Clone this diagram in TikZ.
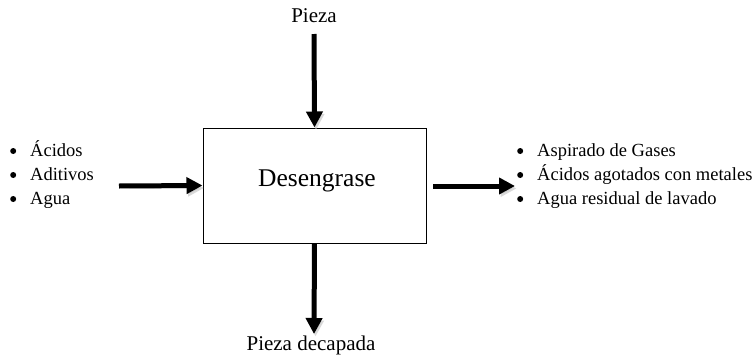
\documentclass[tikz,border=0pt]{standalone}
\usepackage{fontspec}
\setmainfont{Liberation Serif}
\usetikzlibrary{arrows.meta}

\tikzset{
  flecha/.style={line width=5pt, -{Triangle[length=16pt,width=16pt]},
    preaction={draw=black!25, opacity=0.6, transform canvas={shift={(1.5pt,-2.5pt)}}}},
  lista/.style={anchor=base west, inner sep=0pt, font=\fontsize{18.5}{24}\selectfont},
  rotulo/.style={anchor=base, inner sep=0pt, font=\fontsize{21}{24}\selectfont},
}
\newcommand{\vineta}{\raisebox{2pt}{\tikz\fill (0,0) circle (3pt);}}

\begin{document}
\begin{tikzpicture}[x=1pt,y=-1pt]
\useasboundingbox (0,0) rectangle (756,362);

% proceso
\node[draw, line width=1pt, minimum width=223pt, minimum height=115pt, inner sep=0pt] (box) at (314.5,185.5) {};
\node[anchor=base, inner sep=0pt, font=\fontsize{25.5}{28}\selectfont] (nombre) at (317,186) {Desengrase};

% entrada y salida de pieza
\node[rotulo] (pieza) at (314,22) {Pieza};
\node[rotulo] (decapada) at (311,350) {Pieza decapada};
\coordinate (arriba) at (314,34);
\coordinate (abajo) at (314,334);
\draw[flecha] (arriba) -- (box.north);
\draw[flecha] (box.south) -- (abajo);

% insumos
\node[lista] (insumos) at (10,156) {\begin{tabular}[t]{@{}l@{\hspace{14pt}}l@{}}
\vineta & Ácidos\\
\vineta & Aditivos\\
\vineta & Agua
\end{tabular}};
\coordinate (entra) at (119,186);
\draw[flecha] (entra) -- (box.west);

% residuos
\node[lista] (residuos) at (517,156) {\begin{tabular}[t]{@{}l@{\hspace{14pt}}l@{}}
\vineta & Aspirado de Gases\\
\vineta & Ácidos agotados con metales\\
\vineta & Agua residual de lavado
\end{tabular}};
\coordinate (sale) at (433,186);
\coordinate (fin) at (515,186);
\draw[flecha] (sale) -- (fin);
\end{tikzpicture}
\end{document}
